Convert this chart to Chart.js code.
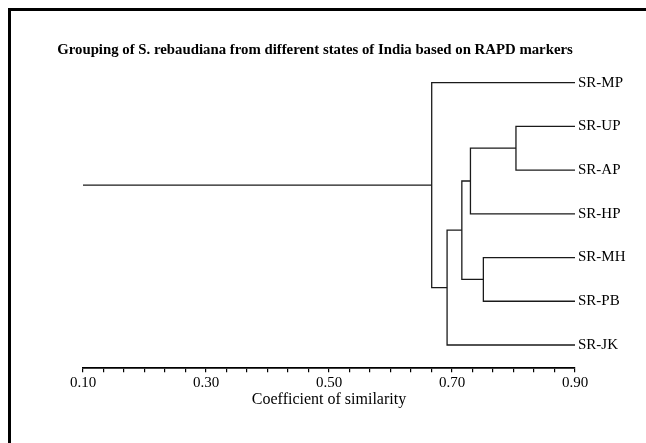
<!DOCTYPE html>
<html>
<head>
<meta charset="utf-8">
<script src="https://cdn.jsdelivr.net/npm/chart.js@4/dist/chart.umd.min.js"></script>
<style>
  body { margin: 0; background: #fff; overflow: hidden; }
  #wrap { position: relative; width: 646px; height: 443px; }
  #frame { position: absolute; left: 8px; top: 8px; width: 700px; height: 500px;
           border-left: 3px solid #000; border-top: 3px solid #000; }
  #myChart { position: absolute; left: 0; top: 0; }
</style>
</head>
<body>
<div id="wrap">
  <div id="frame"></div>
  <canvas id="myChart" width="646" height="443"></canvas>
</div>
<script>
//Leaves, top to bottom
var leaves = ['SR-MP', 'SR-UP', 'SR-AP', 'SR-HP', 'SR-MH', 'SR-PB', 'SR-JK'];

//Merges (linkage style: 0-6 are leaves, 7+ are the merges in order)
var mergeA = [1, 7, 4, 8, 10, 0];
var mergeB = [2, 3, 5, 9, 6, 11];
var mergeSimilarity = [0.804, 0.730, 0.751, 0.716, 0.692, 0.667];

//Similarity where leaves end, and where the root line ends
var leafSimilarity = 0.90;
var rootTail = 0.10;

//Axis
var majorLabels = ['0.10', '0.30', '0.50', '0.70', '0.90'];
var minorPerMajor = 6;
var axisMin = 0.10;
var axisMax = 0.90;

var lineColor = '#1a1a1a';
var serif = '"Liberation Serif", "Times New Roman", serif';

//Work out x (similarity) and y (row) for every cluster
var nodeX = [];
var nodeY = [];
for (var i = 0; i < leaves.length; i++) {
  nodeX.push(leafSimilarity);
  nodeY.push(i);
}

var datasets = [];
for (var m = 0; m < mergeA.length; m++) {
  var a = mergeA[m];
  var b = mergeB[m];
  var h = mergeSimilarity[m];
  datasets.push(linkSet([
    {x: nodeX[a], y: nodeY[a]},
    {x: h, y: nodeY[a]},
    {x: h, y: nodeY[b]},
    {x: nodeX[b], y: nodeY[b]}
  ]));
  nodeX.push(h);
  nodeY.push((nodeY[a] + nodeY[b]) / 2);
}

//root stub
var root = nodeX.length - 1;
datasets.push(linkSet([
  {x: nodeX[root], y: nodeY[root]},
  {x: rootTail, y: nodeY[root]}
]));

function linkSet(points) {
  return {
    data: points,
    showLine: true,
    borderColor: lineColor,
    borderWidth: 1.3,
    pointRadius: 0,
    tension: 0,
    fill: false,
    yAxisID: 'y'
  };
}

var tickCount = (majorLabels.length - 1) * minorPerMajor;

var ctx = document.getElementById('myChart').getContext('2d');

var myChart = new Chart(ctx, {
  type: 'scatter',
  data: { datasets: datasets },
  options: {
    responsive: false,
    animation: false,
    events: [],
    devicePixelRatio: 1,
    layout: { padding: { top: 0, left: 0, right: 16, bottom: 33.7 } },
    plugins: {
      legend: { display: false },
      tooltip: { enabled: false },
      title: {
        display: true,
        text: 'Grouping of S. rebaudiana from different states of India based on RAPD markers',
        color: '#000',
        font: { family: serif, size: 14.8, weight: 'bold' },
        padding: { top: 41, bottom: 2 }
      }
    },
    scales: {
      x: {
        type: 'linear',
        min: axisMin,
        max: axisMax,
        afterBuildTicks: function (scale) {
          var t = [];
          for (var i = 0; i <= tickCount; i++) {
            t.push({ value: axisMin + i * (axisMax - axisMin) / tickCount });
          }
          scale.ticks = t;
        },
        afterFit: function (scale) { scale.height = 41; },
        ticks: {
          autoSkip: false,
          maxRotation: 0,
          padding: 2,
          color: '#000',
          font: { family: serif, size: 15 },
          callback: function (value, index) {
            return index % minorPerMajor === 0 ? majorLabels[index / minorPerMajor] : '';
          }
        },
        grid: {
          drawOnChartArea: false,
          drawTicks: true,
          tickLength: 4,
          color: '#000',
          lineWidth: 1.2
        },
        border: { display: true, color: '#000', width: 1.8 },
        title: {
          display: true,
          text: 'Coefficient of similarity',
          color: '#000',
          font: { family: serif, size: 16 },
          padding: { top: 0, bottom: 0 }
        }
      },
      y: {
        type: 'linear',
        position: 'right',
        reverse: true,
        min: -0.5,
        max: 6.533,
        afterBuildTicks: function (scale) {
          scale.ticks = leaves.map(function (name, i) { return { value: i }; });
        },
        afterFit: function (scale) { scale.width = 55; },
        ticks: {
          padding: 3,
          color: '#000',
          font: { family: serif, size: 15 },
          callback: function (value) { return leaves[value]; }
        },
        grid: { display: false, drawTicks: false },
        border: { display: false }
      },
      yl: {
        type: 'linear',
        position: 'left',
        afterFit: function (scale) { scale.width = 83; },
        ticks: { display: false },
        grid: { display: false, drawTicks: false },
        border: { display: false }
      }
    }
  }
});
</script>
</body>
</html>
